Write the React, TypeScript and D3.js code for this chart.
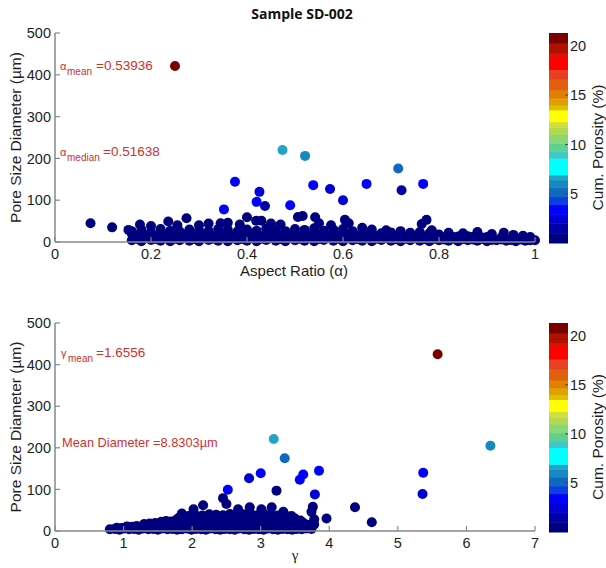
import React from 'react';
import * as d3 from 'd3';

// ---------- data ----------
const title = 'Sample SD-002';
const yTicks = [0, 100, 200, 300, 400, 500];
const topXTicks = [0, 0.2, 0.4, 0.6, 0.8, 1];
const topXLabels = ['0', '0.2', '0.4', '0.6', '0.8', '1'];
const bottomXTicks = [0, 1, 2, 3, 4, 5, 6, 7];
const bottomXLabels = ['0', '1', '2', '3', '4', '5', '6', '7'];
const cbTicks = [5, 10, 15, 20];
const cbMax = 21.3;
const cbThresholds = [1, 2, 2.9, 3.9, 4.7, 5.6, 6.4, 6.9, 8.6, 9.3, 10.1, 11, 11.7, 12.3, 13.5, 14, 14.7, 15.5, 16.6, 17.6, 18.8, 19.3, 20.3];
const cbColors = ['#00007f', '#0000a6', '#0000d2', '#0000ff', '#0a40e0', '#1068c0', '#1888c0', '#22a4c8', '#00ffff', '#40c8c8', '#60d090', '#88d878', '#b0d850', '#d0e040', '#ffff00', '#e0c000', '#e0a000', '#e08000', '#e06010', '#e84020', '#ff0000', '#e01000', '#b01000', '#7a0000'];

// Aspect ratio (alpha) vs diameter: dense low-porosity band [alpha, diameter]
const topBandLow: [number, number][] = [
  [0.16, 4], [0.18, 2], [0.20, 5], [0.22, 3], [0.24, 2], [0.26, 4], [0.28, 3], [0.30, 2], [0.32, 5], [0.34, 3],
  [0.36, 2], [0.38, 4], [0.40, 3], [0.42, 2], [0.44, 5], [0.46, 3], [0.48, 2], [0.50, 4], [0.52, 3], [0.54, 2],
  [0.56, 5], [0.58, 3], [0.60, 2], [0.62, 4], [0.64, 3], [0.66, 2], [0.68, 5], [0.70, 3], [0.72, 2], [0.74, 4],
  [0.76, 3], [0.78, 2], [0.80, 4], [0.82, 3], [0.84, 2], [0.86, 4], [0.88, 3], [0.90, 2], [0.92, 4], [0.94, 3],
  [0.96, 2], [0.98, 3], [1.0, 4],
];
const topBandLow2: [number, number][] = [
  [0.17, 8], [0.19, 10], [0.21, 7], [0.23, 9], [0.25, 8], [0.27, 10], [0.29, 7], [0.31, 9], [0.33, 8], [0.35, 10],
  [0.37, 9], [0.39, 7], [0.41, 10], [0.43, 8], [0.45, 9], [0.47, 7], [0.49, 10], [0.51, 8], [0.53, 9], [0.55, 7],
  [0.57, 10], [0.59, 8], [0.61, 9], [0.63, 7], [0.65, 10], [0.67, 8], [0.69, 9], [0.71, 7], [0.73, 8], [0.75, 9],
  [0.77, 7], [0.79, 8], [0.81, 6], [0.83, 8], [0.85, 7], [0.87, 6], [0.89, 7], [0.91, 5], [0.93, 6], [0.95, 5],
  [0.97, 6], [0.99, 4],
];
const topBandMid: [number, number][] = [
  [0.17, 14], [0.19, 17], [0.21, 13], [0.23, 16], [0.25, 15], [0.27, 18], [0.29, 13], [0.31, 16], [0.33, 14], [0.35, 17],
  [0.37, 15], [0.39, 13], [0.41, 18], [0.43, 14], [0.45, 16], [0.47, 15], [0.49, 17], [0.51, 13], [0.53, 16], [0.55, 18],
  [0.57, 14], [0.59, 15], [0.61, 17], [0.63, 13], [0.65, 15], [0.67, 14], [0.69, 12], [0.71, 15], [0.73, 13], [0.75, 14],
  [0.77, 12], [0.79, 13], [0.81, 11], [0.83, 12], [0.85, 10], [0.87, 12], [0.89, 11], [0.91, 9], [0.93, 11], [0.95, 8],
  [0.97, 9], [0.99, 7],
];
const topBandMid2: [number, number][] = [
  [0.16, 20], [0.18, 22], [0.20, 19], [0.22, 21], [0.24, 23], [0.26, 20], [0.28, 22], [0.30, 21], [0.32, 19], [0.34, 23],
  [0.36, 21], [0.38, 20], [0.40, 22], [0.42, 21], [0.44, 19], [0.46, 22], [0.48, 20], [0.50, 23], [0.52, 21], [0.54, 20],
  [0.56, 22], [0.58, 21], [0.60, 19], [0.62, 21], [0.64, 18], [0.66, 17], [0.68, 16], [0.70, 18], [0.72, 16], [0.74, 17],
  [0.76, 15], [0.78, 16], [0.80, 14], [0.82, 15], [0.84, 13], [0.86, 14], [0.88, 15], [0.90, 12],
];
const topBandHigh: [number, number][] = [
  [0.16, 26], [0.18, 29], [0.20, 24], [0.22, 31], [0.24, 27], [0.26, 25], [0.28, 30], [0.30, 28], [0.32, 26], [0.34, 31],
  [0.36, 29], [0.38, 25], [0.40, 30], [0.42, 27], [0.44, 32], [0.46, 28], [0.48, 26], [0.50, 31], [0.52, 29], [0.54, 33],
  [0.56, 27], [0.58, 30], [0.60, 31], [0.62, 26], [0.64, 24], [0.66, 22], [0.68, 21], [0.70, 23], [0.72, 20], [0.74, 22],
  [0.76, 24], [0.78, 21], [0.80, 18],
];
const topBandPeaks: [number, number][] = [
  [0.074, 45], [0.119, 35], [0.153, 29], [0.177, 42], [0.20, 38], [0.236, 49], [0.255, 40], [0.274, 57], [0.30, 40],
  [0.32, 44], [0.345, 45], [0.36, 46], [0.385, 42], [0.40, 59], [0.419, 51], [0.43, 51], [0.45, 44], [0.47, 42],
  [0.506, 60], [0.516, 62], [0.542, 59], [0.55, 45], [0.575, 40], [0.604, 53], [0.612, 45], [0.64, 34], [0.66, 30],
  [0.69, 28], [0.72, 26], [0.764, 43], [0.774, 53], [0.785, 28], [0.82, 22], [0.85, 21], [0.88, 24], [0.91, 19],
  [0.935, 22], [0.955, 17], [0.975, 15], [0.99, 12],
];
// [alpha, diameter, cumulative porosity]
const topOutliers: [number, number, number][] = [
  [0.352, 78, 3.2], [0.4375, 86, 1.8], [0.42, 96, 3.0], [0.49, 88, 3.0], [0.60, 100, 2.2], [0.426, 120, 2.5],
  [0.722, 124, 1.8], [0.573, 127, 2.8], [0.538, 136, 3.5], [0.649, 139, 3.5], [0.767, 139, 3.3], [0.375, 144, 3.5],
  [0.715, 176, 4.8], [0.521, 206, 6.0], [0.474, 220, 6.6], [0.25, 421, 21],
];

// Gamma vs diameter
const bottomBandRow1: [number, number][] = [
  [0.80, 4], [0.87, 5], [0.94, 3], [1.01, 6], [1.08, 4], [1.15, 5], [1.22, 3], [1.29, 6], [1.36, 4], [1.43, 5],
  [1.50, 3], [1.57, 6], [1.64, 4], [1.71, 5], [1.78, 3], [1.85, 4], [1.92, 6], [1.99, 3], [2.06, 5], [2.13, 4],
  [2.20, 3], [2.27, 6], [2.34, 4], [2.41, 3], [2.48, 5], [2.55, 4], [2.62, 3], [2.69, 6], [2.76, 4], [2.83, 3],
  [2.90, 5], [2.97, 4], [3.04, 3], [3.11, 6], [3.18, 4], [3.25, 3], [3.32, 5], [3.39, 4], [3.46, 3], [3.53, 5],
  [3.60, 4], [3.67, 6], [3.74, 5],
];
const bottomBandRow1b: [number, number][] = [
  [0.90, 8], [0.97, 7], [1.04, 9], [1.11, 8], [1.18, 9], [1.25, 7], [1.32, 9], [1.39, 8], [1.46, 10], [1.53, 9],
  [1.60, 8], [1.67, 10], [1.74, 9], [1.81, 8], [1.88, 10], [1.95, 9], [2.02, 8], [2.09, 10], [2.16, 9], [2.23, 8],
  [2.30, 10], [2.37, 9], [2.44, 8], [2.51, 10], [2.58, 9], [2.65, 8], [2.72, 10], [2.79, 9], [2.86, 8], [2.93, 10],
  [3.00, 9], [3.07, 8], [3.14, 10], [3.21, 9], [3.28, 8], [3.35, 10], [3.42, 9], [3.49, 8], [3.56, 9], [3.63, 8],
];
const bottomBandRow2: [number, number][] = [
  [1.05, 11], [1.12, 10], [1.19, 12], [1.26, 11], [1.33, 13], [1.40, 12], [1.47, 14], [1.54, 13], [1.61, 15], [1.68, 14],
  [1.75, 16], [1.82, 15], [1.89, 14], [1.96, 16], [2.03, 15], [2.10, 17], [2.17, 14], [2.24, 16], [2.31, 15], [2.38, 17],
  [2.45, 14], [2.52, 16], [2.59, 15], [2.66, 17], [2.73, 14], [2.80, 16], [2.87, 15], [2.94, 17], [3.01, 14], [3.08, 16],
  [3.15, 15], [3.22, 17], [3.29, 14], [3.36, 16], [3.43, 15], [3.50, 14], [3.57, 16], [3.64, 13], [3.71, 15],
];
const bottomBandRow2b: [number, number][] = [
  [1.30, 17], [1.38, 18], [1.46, 19], [1.54, 20], [1.62, 19], [1.70, 21], [1.78, 20], [1.86, 22], [1.94, 21], [2.02, 20],
  [2.10, 22], [2.18, 21], [2.26, 20], [2.34, 22], [2.42, 21], [2.50, 20], [2.58, 22], [2.66, 21], [2.74, 20], [2.82, 22],
  [2.90, 21], [2.98, 20], [3.06, 22], [3.14, 21], [3.22, 20], [3.30, 22], [3.38, 21], [3.46, 20], [3.54, 19], [3.62, 20],
];
const bottomBandRow3: [number, number][] = [
  [1.55, 22], [1.62, 24], [1.69, 23], [1.76, 26], [1.83, 25], [1.90, 27], [1.97, 26], [2.04, 28], [2.11, 25], [2.18, 27],
  [2.25, 26], [2.32, 28], [2.39, 27], [2.46, 26], [2.53, 28], [2.60, 27], [2.67, 25], [2.74, 28], [2.81, 27], [2.88, 26],
  [2.95, 28], [3.02, 27], [3.09, 25], [3.16, 28], [3.23, 26], [3.30, 27], [3.37, 25], [3.44, 26], [3.51, 24], [3.58, 25],
];
const bottomBandRow3b: [number, number][] = [
  [1.80, 31], [1.90, 33], [2.00, 32], [2.10, 34], [2.20, 32], [2.30, 33], [2.40, 34], [2.50, 32], [2.60, 33], [2.70, 34],
  [2.80, 32], [2.90, 34], [3.00, 33], [3.10, 32], [3.20, 34], [3.30, 32], [3.40, 31], [3.50, 30],
];
const bottomBandRow4: [number, number][] = [
  [1.95, 36], [2.05, 38], [2.15, 37], [2.25, 40], [2.35, 39], [2.45, 38], [2.55, 41], [2.65, 39], [2.75, 40], [2.85, 42],
  [2.95, 38], [3.05, 41], [3.15, 40], [3.25, 37], [3.35, 39], [3.45, 36],
];
const bottomBandPeaks: [number, number][] = [
  [1.85, 42], [2.02, 52], [2.16, 62], [2.50, 65], [2.45, 79], [2.67, 52], [2.84, 57], [3.01, 52], [3.16, 57], [3.33, 46],
  [3.62, 14], [3.78, 16], [3.78, 28], [3.96, 30], [3.74, 46], [3.76, 58], [4.375, 57], [4.62, 21], [3.23, 97],
];
const bottomOutliers: [number, number, number][] = [
  [3.79, 88, 2.6], [5.36, 89, 2.8], [2.52, 99, 3.0], [3.57, 123, 3.0], [2.83, 127, 2.8], [3.62, 136, 3.5],
  [3.0, 139, 3.3], [5.37, 140, 3.5], [3.85, 145, 3.5], [3.35, 175, 4.8], [6.35, 205, 6.0], [3.19, 221, 6.6],
  [5.58, 425, 21],
];

const topNotes = [
  { sym: 'α', sub: 'mean', val: '=0.53936', x: 60, y: 70, valX: 96 },
  { sym: 'α', sub: 'median', val: '=0.51638', x: 60, y: 156, valX: 103 },
];
const bottomNotes = [{ sym: 'γ', sub: 'mean', val: '=1.6556', x: 61, y: 357, valX: 96 }];
const meanDiameterNote = 'Mean Diameter =8.8303µm';

// ---------- layout ----------
const W = 606;
const H = 568;
const FONT = '"Liberation Sans", Arial, sans-serif';
const AX = '#888888';
const TXT = '#1e1e1e';
const RED = '#d0302e';
const R = 5;

const color = d3.scaleThreshold<number, string>().domain(cbThresholds).range(cbColors);

type PanelProps = {
  top: number;
  bottom: number;
  xDomain: [number, number];
  xTicks: number[];
  xLabels: string[];
  band: [number, number][];
  outliers: [number, number, number][];
};

function Panel({ top, bottom, xDomain, xTicks, xLabels, band, outliers }: PanelProps) {
  const x = d3.scaleLinear().domain(xDomain).range([55, 535]);
  const y = d3.scaleLinear().domain([0, 500]).range([bottom, top]);
  const cb = d3.scaleLinear().domain([0, cbMax]).range([bottom + 1, top]);
  const bands = [0, ...cbThresholds, cbMax];
  return (
    <g>
      {band.map((d, i) => (
        <circle key={'b' + i} cx={x(d[0])} cy={y(d[1])} r={R} fill={color(0.5)} />
      ))}
      {outliers.map((d, i) => (
        <circle key={'o' + i} cx={x(d[0])} cy={y(d[1])} r={R} fill={color(d[2])} />
      ))}
      {/* axes */}
      <line x1={55} x2={55} y1={top} y2={bottom} stroke={AX} strokeWidth={1.5} />
      <line x1={55} x2={535} y1={bottom} y2={bottom} stroke={AX} strokeWidth={1.5} />
      {yTicks.map((t) => (
        <g key={'y' + t}>
          <line x1={55} x2={60} y1={y(t)} y2={y(t)} stroke={AX} strokeWidth={1.2} />
          <text x={51} y={y(t)} dy="0.36em" textAnchor="end" fontSize={14.5} fill={TXT} fontFamily={FONT}>
            {t}
          </text>
        </g>
      ))}
      {xTicks.map((t, i) => (
        <g key={'x' + t}>
          <line x1={x(t)} x2={x(t)} y1={bottom} y2={bottom - 5} stroke={AX} strokeWidth={1.2} />
          <text x={x(t)} y={bottom + 17} textAnchor="middle" fontSize={14.5} fill={TXT} fontFamily={FONT}>
            {xLabels[i]}
          </text>
        </g>
      ))}
      <text
        transform={`translate(21,${(top + bottom) / 2}) rotate(-90)`}
        textAnchor="middle"
        fontSize={15.5}
        fill={TXT}
        fontFamily={FONT}
      >
        Pore Size Diameter (µm)
      </text>
      {/* colorbar */}
      {bands.slice(0, -1).map((b, i) => (
        <rect key={'cb' + i} x={549} width={19} y={cb(bands[i + 1])} height={cb(b) - cb(bands[i + 1]) + 0.5} fill={cbColors[i]} />
      ))}
      {cbTicks.map((t) => (
        <g key={'c' + t}>
          <line x1={565} x2={568} y1={cb(t)} y2={cb(t)} stroke="#444" strokeWidth={1} />
          <text x={570} y={cb(t)} dy="0.36em" fontSize={14.5} fill={TXT} fontFamily={FONT}>
            {t}
          </text>
        </g>
      ))}
      <text
        transform={`translate(603,${(top + bottom) / 2 + 10}) rotate(-90)`}
        textAnchor="middle"
        fontSize={15.5}
        fill={TXT}
        fontFamily={FONT}
      >
        Cum. Porosity (%)
      </text>
    </g>
  );
}

function Note({ sym, sub, val, x, y, valX }: { sym: string; sub: string; val: string; x: number; y: number; valX: number }) {
  return (
    <g fill={RED} fontFamily={FONT}>
      <text x={x} y={y} fontSize={11}>
        {sym}
      </text>
      <text x={x + 7} y={y + 5} fontSize={10}>
        {sub}
      </text>
      <text x={valX} y={y} fontSize={13.5}>
        {val}
      </text>
    </g>
  );
}

export default function App() {
  const topBand = [...topBandLow, ...topBandLow2, ...topBandMid, ...topBandMid2, ...topBandHigh, ...topBandPeaks];
  const bottomBand = [
    ...bottomBandRow1,
    ...bottomBandRow1b,
    ...bottomBandRow2,
    ...bottomBandRow2b,
    ...bottomBandRow3,
    ...bottomBandRow3b,
    ...bottomBandRow4,
    ...bottomBandPeaks,
  ];
  return (
    <svg
      width={W}
      height={H}
      viewBox={`0 0 ${W} ${H}`}
      style={{ position: 'absolute', left: 0, top: 0, background: '#fff' }}
    >
      <rect width={W} height={H} fill="#fff" />
      <text x={302} y={19} textAnchor="middle" fontSize={14} fontWeight="bold" fill="#111" fontFamily='"Open Sans", sans-serif'>
        {title}
      </text>
      <Panel top={33} bottom={242} xDomain={[0, 1]} xTicks={topXTicks} xLabels={topXLabels} band={topBand} outliers={topOutliers} />
      <text x={294} y={276} textAnchor="middle" fontSize={15} fill={TXT} fontFamily={FONT}>
        Aspect Ratio (α)
      </text>
      {topNotes.map((n, i) => (
        <Note key={'tn' + i} {...n} />
      ))}
      <Panel top={323} bottom={531} xDomain={[0, 7]} xTicks={bottomXTicks} xLabels={bottomXLabels} band={bottomBand} outliers={bottomOutliers} />
      <text x={295} y={560} textAnchor="middle" fontSize={15} fill={TXT} fontFamily='"Liberation Serif", serif'>
        γ
      </text>
      {bottomNotes.map((n, i) => (
        <Note key={'bn' + i} {...n} />
      ))}
      <text x={62} y={447} fontSize={12.8} fill={RED} fontFamily={FONT}>
        {meanDiameterNote}
      </text>
    </svg>
  );
}
